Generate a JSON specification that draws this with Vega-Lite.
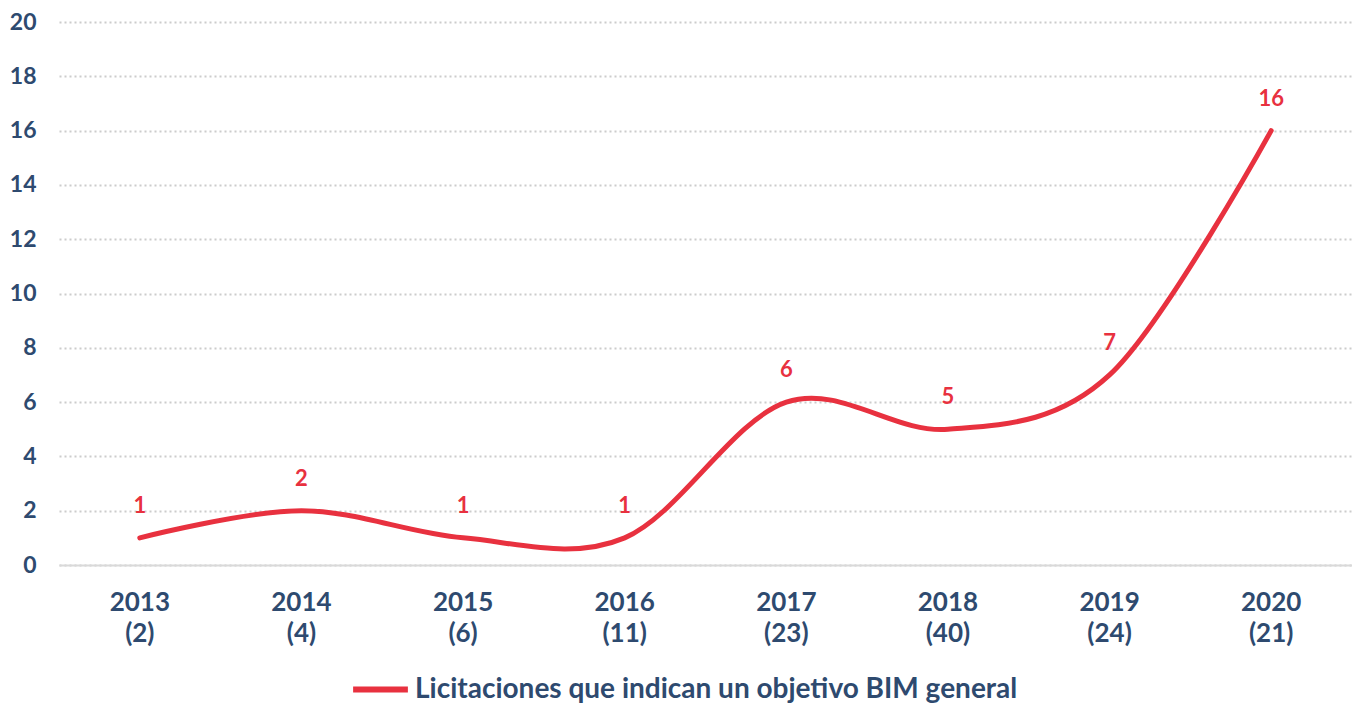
{
  "$schema": "https://vega.github.io/schema/vega-lite/v6.json",
  "autosize": {"type": "none"},
  "width": 1293,
  "height": 543,
  "padding": {"left": 59, "top": 22, "right": 0, "bottom": 138},
  "background": "white",
  "config": {
    "view": {"stroke": null},
    "font": "Lato"
  },
  "data": {
    "values": [
      {"year": "2013 (2)", "value": 1, "series": "Licitaciones que indican un objetivo BIM general"},
      {"year": "2014 (4)", "value": 2, "series": "Licitaciones que indican un objetivo BIM general"},
      {"year": "2015 (6)", "value": 1, "series": "Licitaciones que indican un objetivo BIM general"},
      {"year": "2016 (11)", "value": 1, "series": "Licitaciones que indican un objetivo BIM general"},
      {"year": "2017 (23)", "value": 6, "series": "Licitaciones que indican un objetivo BIM general"},
      {"year": "2018 (40)", "value": 5, "series": "Licitaciones que indican un objetivo BIM general"},
      {"year": "2019 (24)", "value": 7, "series": "Licitaciones que indican un objetivo BIM general"},
      {"year": "2020 (21)", "value": 16, "series": "Licitaciones que indican un objetivo BIM general"}
    ]
  },
  "encoding": {
    "x": {
      "field": "year",
      "type": "nominal",
      "sort": null,
      "scale": {"type": "band", "paddingInner": 0, "paddingOuter": 0},
      "axis": {
        "title": null,
        "labelAngle": 0,
        "labelExpr": "split(datum.value, ' ')",
        "labelFontSize": 26,
        "labelFontWeight": "bold",
        "labelColor": "#2e4a6f",
        "labelLineHeight": 31,
        "labelPadding": 24,
        "ticks": false,
        "domain": true,
        "domainColor": "#d9d9d9",
        "domainWidth": 2,
        "grid": false
      }
    },
    "y": {
      "field": "value",
      "type": "quantitative",
      "scale": {"domain": [0, 20], "nice": false},
      "axis": {
        "title": null,
        "values": [0, 2, 4, 6, 8, 10, 12, 14, 16, 18, 20],
        "labelFontSize": 23,
        "labelFontWeight": "bold",
        "labelColor": "#2e4a6f",
        "labelPadding": 23,
        "ticks": false,
        "domain": false,
        "grid": true,
        "gridColor": "#cccccc",
        "gridDash": [2, 3],
        "gridWidth": 2
      }
    }
  },
  "layer": [
    {
      "mark": {"type": "line", "interpolate": "cardinal", "strokeWidth": 5, "strokeCap": "round"},
      "encoding": {
        "color": {
          "field": "series",
          "type": "nominal",
          "scale": {"range": ["#e8313f"]},
          "legend": {
            "title": null,
            "orient": "none",
            "legendX": 291,
            "legendY": 637,
            "symbolType": "stroke",
            "symbolStrokeWidth": 6,
            "symbolSize": 3000,
            "labelFontSize": 28,
            "labelFontWeight": "bold",
            "labelColor": "#2e4a6f",
            "labelOffset": 4,
            "labelLimit": 1000
          }
        }
      }
    },
    {
      "mark": {"type": "text", "dy": -32, "fontSize": 22, "fontWeight": "bold", "color": "#e8313f"},
      "encoding": {
        "text": {"field": "value", "type": "quantitative"}
      }
    }
  ]
}
